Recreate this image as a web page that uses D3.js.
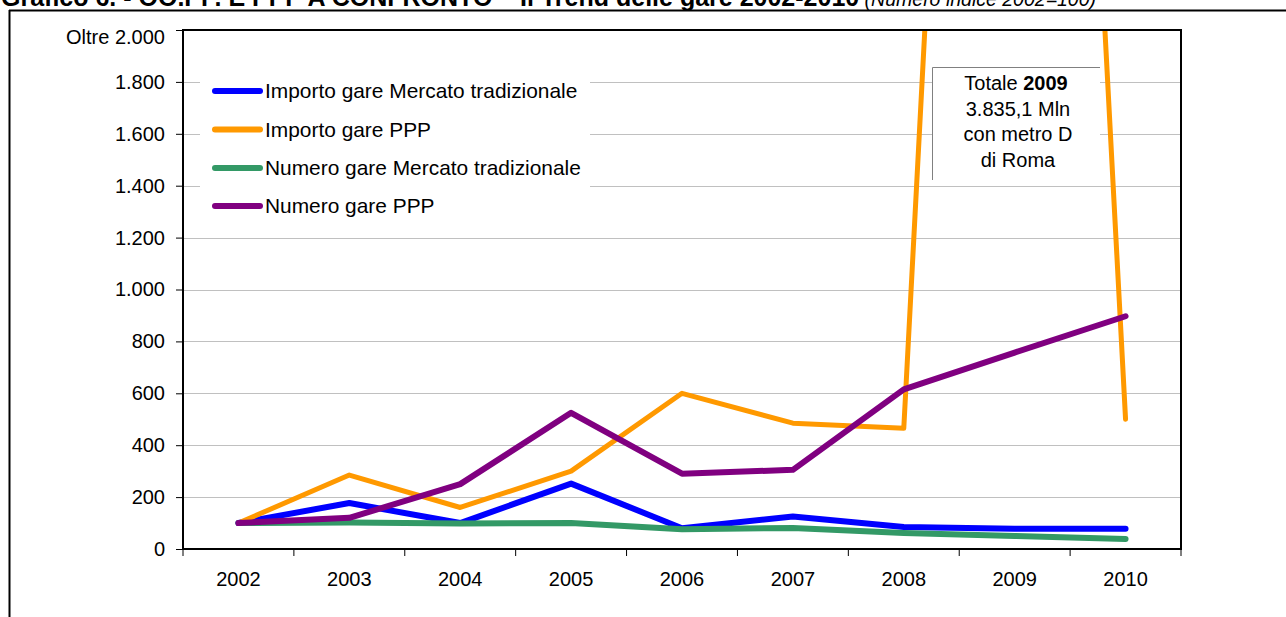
<!DOCTYPE html>
<html>
<head>
<meta charset="utf-8">
<script src="https://cdn.jsdelivr.net/npm/d3@7/dist/d3.min.js"></script>
<style>
  html, body { margin: 0; padding: 0; background: #fff; }
  svg { display: block; font-family: Arial, "Liberation Sans", sans-serif; }
</style>
</head>
<body>
<svg id="chart" width="1286" height="617"></svg>
<script>
// ---- data ----
const years = ["2002", "2003", "2004", "2005", "2006", "2007", "2008", "2009", "2010"];
const importoMercato = [100, 177, 100, 252, 80, 125, 85, 78, 78];
const importoPPP = [100, 285, 160, 300, 600, 485, 465, 8560, 500];
const numeroMercato = [100, 102, 98, 100, 76, 81, 62, 50, 39];
const numeroPPP = [100, 120, 250, 525, 290, 305, 615, 757, 897];
const seriesNames = ["Importo gare Mercato tradizionale", "Importo gare PPP", "Numero gare Mercato tradizionale", "Numero gare PPP"];
const yTicks = [0, 200, 400, 600, 800, 1000, 1200, 1400, 1600, 1800, 2000];
const titleBold = "Grafico 6. - OO.PP. E PPP A CONFRONTO \u2013 Il Trend delle gare 2002-2010";
const titleItalic = " (Numero indice 2002=100)";
const noteLines = ["3.835,1 Mln", "con metro D", "di Roma"];

const series = [
  { name: seriesNames[0], values: importoMercato, color: "#0000ff", width: 6 },
  { name: seriesNames[1], values: importoPPP, color: "#ff9900", width: 5 },
  { name: seriesNames[2], values: numeroMercato, color: "#339966", width: 6 },
  { name: seriesNames[3], values: numeroPPP, color: "#800080", width: 6 }
];

const svg = d3.select("#chart");
const L = 183, R = 1181, T = 30, B = 549;

// title (partly clipped at top)
const title = svg.append("text").attr("x", 1).attr("y", 5.5).attr("fill", "#000");
title.append("tspan").attr("font-weight", "bold").attr("font-size", 25).text(titleBold);
title.append("tspan").attr("font-style", "italic").attr("font-size", 19.5).text(titleItalic);

// outer frame
svg.append("line").attr("x1", 9).attr("x2", 1286).attr("y1", 10.5).attr("y2", 10.5)
  .attr("stroke", "#000").attr("stroke-width", 2);
svg.append("line").attr("x1", 9.5).attr("x2", 9.5).attr("y1", 10).attr("y2", 617)
  .attr("stroke", "#000").attr("stroke-width", 2);

const x = d3.scaleBand().domain(years).range([L, R]).padding(0);
const y = d3.scaleLinear().domain([0, 2000]).range([B, T]);

// gridlines
svg.append("g").selectAll("line").data(yTicks.filter(d => d > 0 && d < 2000)).join("line")
  .attr("x1", L).attr("x2", R)
  .attr("y1", d => Math.round(y(d)) + 0.5).attr("y2", d => Math.round(y(d)) + 0.5)
  .attr("stroke", "#c0c0c0").attr("stroke-width", 1);

// y axis
const fmt = d => d === 2000 ? "Oltre 2.000" : d3.format(",")(d).replace(/,/g, ".");
const yAxis = svg.append("g").attr("transform", `translate(${L},0)`)
  .call(d3.axisLeft(y).tickValues(yTicks).tickFormat(fmt).tickSize(7).tickPadding(11));
yAxis.select(".domain").remove();
yAxis.selectAll("text").attr("font-size", 20).attr("fill", "#000").attr("font-family", "Arial, 'Liberation Sans', sans-serif");
yAxis.selectAll("text").filter(d => d === 2000).attr("y", 7);
yAxis.selectAll("line").attr("stroke", "#000");

// x axis tick marks at band boundaries
const bounds = years.map(d => x(d)).concat([R]);
svg.append("g").selectAll("line").data(bounds).join("line")
  .attr("x1", d => d).attr("x2", d => d).attr("y1", B).attr("y2", B + 7)
  .attr("stroke", "#000").attr("stroke-width", 1);
const xAxis = svg.append("g").attr("transform", `translate(0,${B})`)
  .call(d3.axisBottom(x).tickSize(0).tickPadding(23));
xAxis.select(".domain").remove();
xAxis.selectAll("text").attr("font-size", 20).attr("fill", "#000").attr("font-family", "Arial, 'Liberation Sans', sans-serif");

// clip
svg.append("clipPath").attr("id", "plotclip").append("rect")
  .attr("x", L).attr("y", T).attr("width", R - L).attr("height", B - T);

// annotation box background (behind lines)
const nb = { x: 932, y: 67, w: 168, h: 113 };
svg.append("rect").attr("x", nb.x).attr("y", nb.y).attr("width", nb.w).attr("height", nb.h).attr("fill", "#fff");
svg.append("line").attr("x1", nb.x + 0.5).attr("x2", nb.x + nb.w).attr("y1", nb.y + 0.5).attr("y2", nb.y + 0.5)
  .attr("stroke", "#808080").attr("stroke-width", 1);
svg.append("line").attr("x1", nb.x + 0.5).attr("x2", nb.x + 0.5).attr("y1", nb.y + 0.5).attr("y2", nb.y + nb.h)
  .attr("stroke", "#808080").attr("stroke-width", 1);
const cx = nb.x + nb.w / 2;
const t1 = svg.append("text").attr("x", cx).attr("y", 90).attr("text-anchor", "middle").attr("font-size", 20);
t1.append("tspan").text("Totale ");
t1.append("tspan").attr("font-weight", "bold").text("2009");
noteLines.forEach((s, i) => {
  svg.append("text").attr("x", cx + 2).attr("y", 90 + 25.5 * (i + 1)).attr("text-anchor", "middle")
    .attr("font-size", 20).text(s);
});

// legend background
svg.append("rect").attr("x", 200).attr("y", 62).attr("width", 390).attr("height", 165).attr("fill", "#fff");

// lines
const line = d3.line().x((d, i) => x(years[i]) + x.bandwidth() / 2).y(d => y(d));
const lg = svg.append("g").attr("clip-path", "url(#plotclip)");
series.forEach(s => {
  lg.append("path").datum(s.values).attr("d", line)
    .attr("fill", "none").attr("stroke", s.color).attr("stroke-width", s.width)
    .attr("stroke-linejoin", "round").attr("stroke-linecap", "round");
});

// plot border
svg.append("rect").attr("x", L).attr("y", T).attr("width", R - L).attr("height", B - T)
  .attr("fill", "none").attr("stroke", "#000").attr("stroke-width", 2);

// legend
const legY = [91, 129.5, 168, 206];
series.forEach((s, i) => {
  svg.append("line").attr("x1", 215).attr("x2", 260).attr("y1", legY[i]).attr("y2", legY[i])
    .attr("stroke", s.color).attr("stroke-width", 6).attr("stroke-linecap", "round");
  svg.append("text").attr("x", 265).attr("y", legY[i]).attr("dy", "0.35em")
    .attr("font-size", 20.9).attr("fill", "#000").text(s.name);
});
</script>
</body>
</html>
